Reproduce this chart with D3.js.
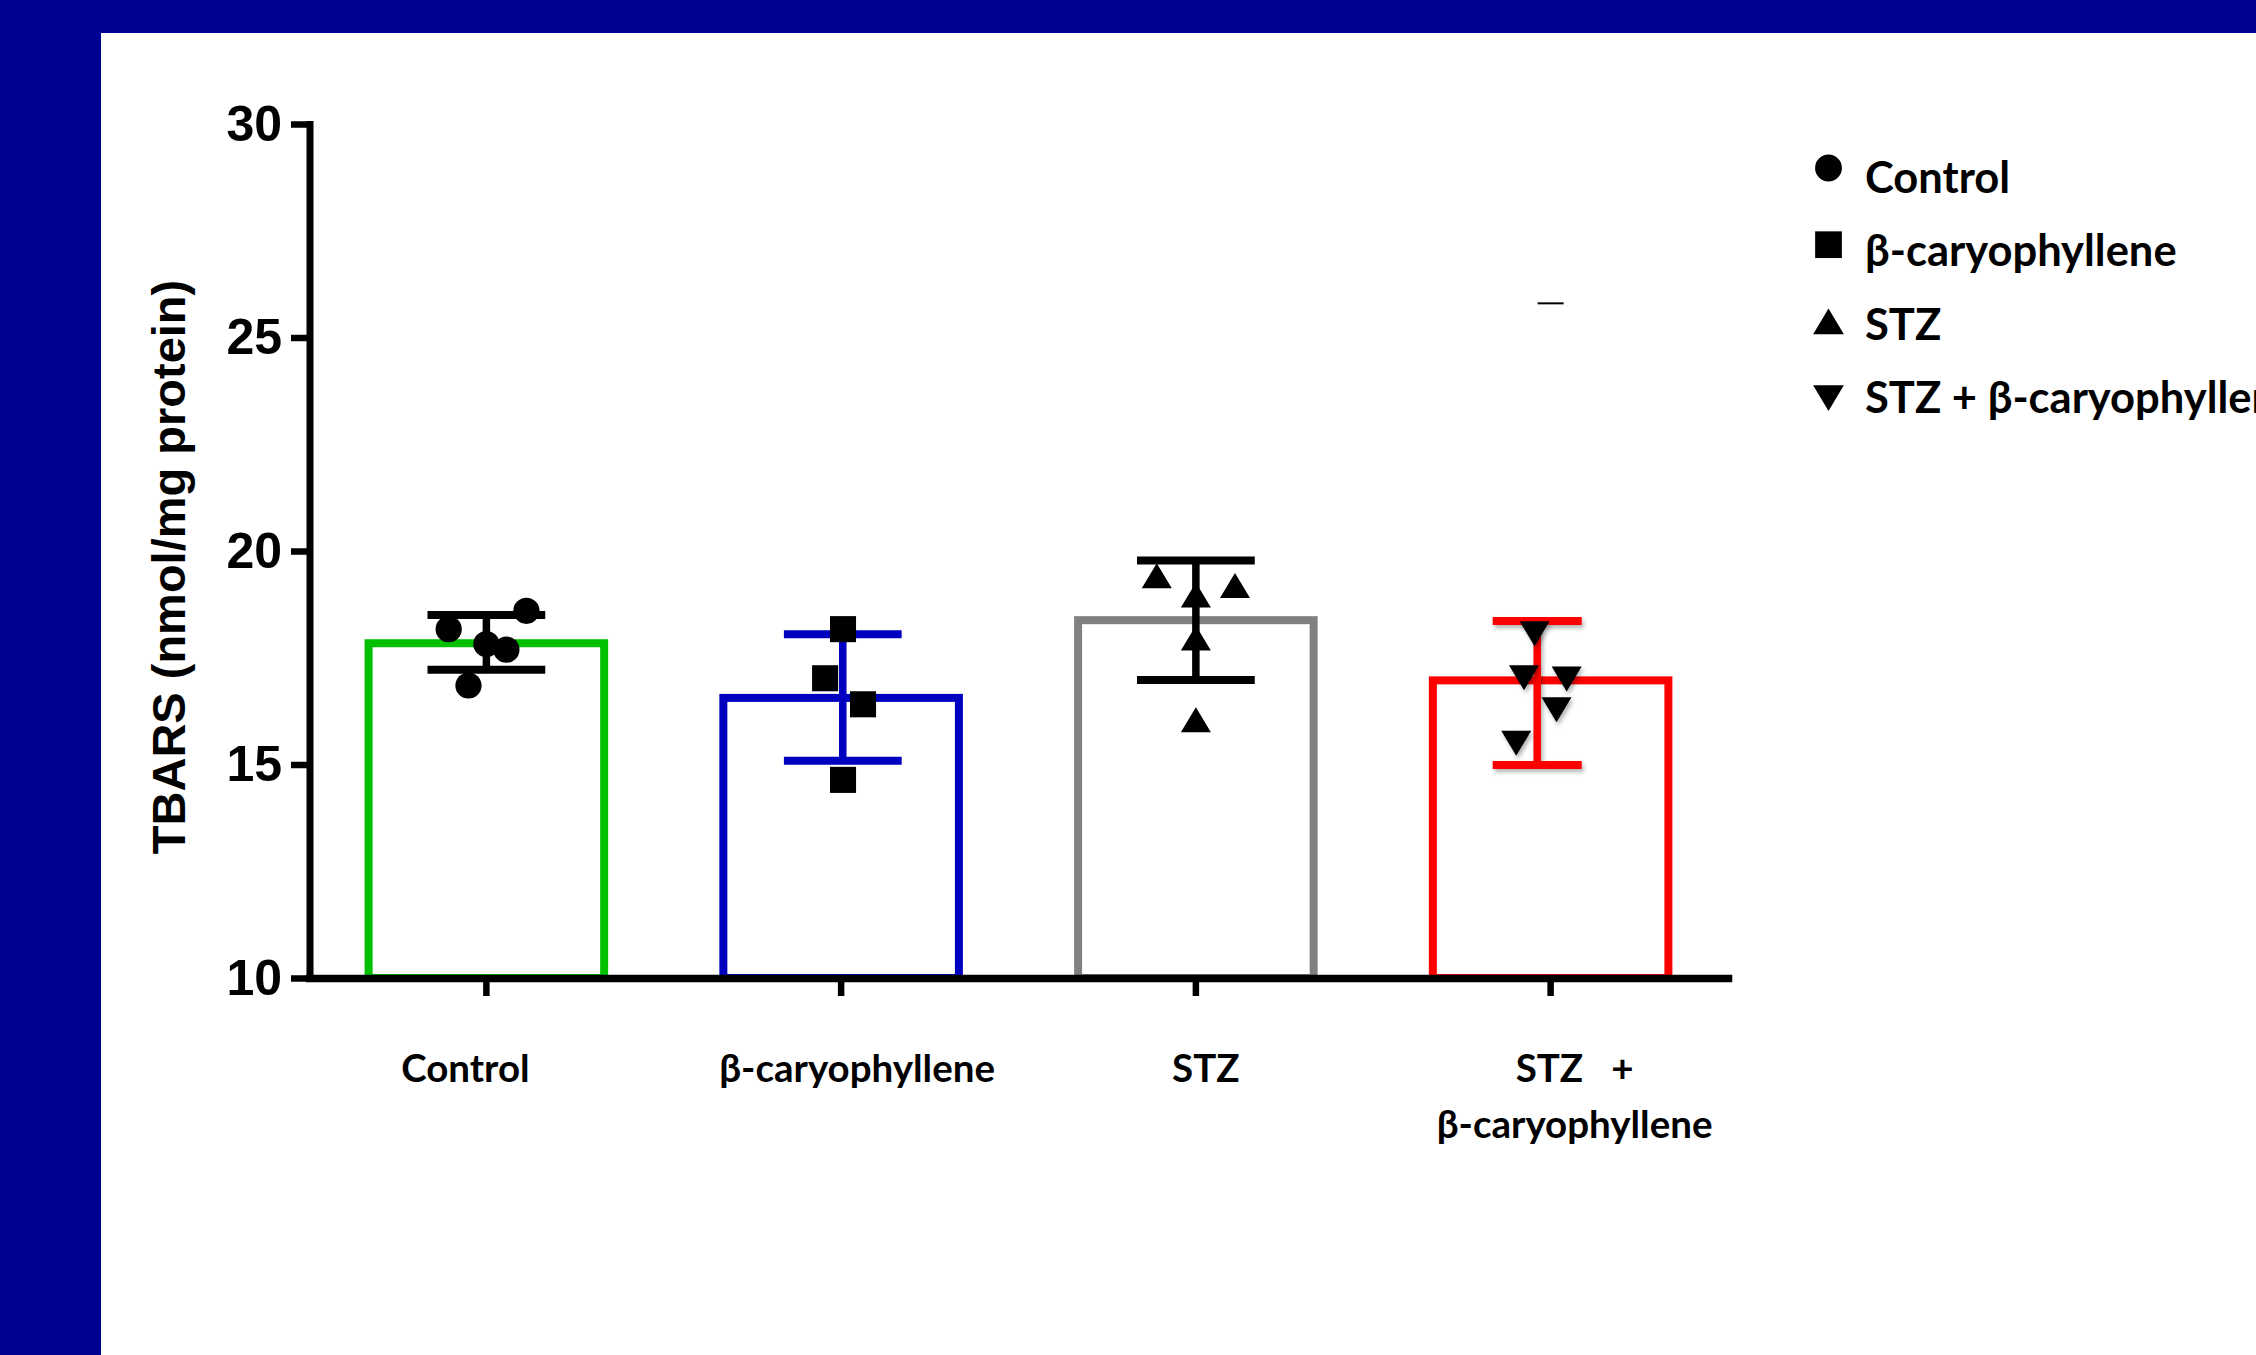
<!DOCTYPE html>
<html>
<head>
<meta charset="utf-8">
<script src="https://cdn.jsdelivr.net/npm/d3@7"></script>
<style>
    body { margin: 0; background: #ffffff; overflow: hidden; }
    text { white-space: pre; }
</style>
</head>
<body>
<svg id="chart"></svg>
<script>
// Groups, means and error bar ends
const groups = ["Control", "β-caryophyllene", "STZ", "STZ + β-caryophyllene"];
const means = [17.84, 16.56, 18.38, 16.97];
const errHigh = [18.50, 18.05, 19.78, 18.36];
const errLow = [17.22, 15.09, 16.98, 14.99];

// Individual animals per group
const controlPts = [18.60, 18.17, 17.82, 17.69, 16.85];
const betaPts = [18.17, 17.02, 16.41, 14.64];
const stzPts = [19.42, 19.19, 18.97, 17.96, 16.05];
const stzBetaPts = [18.06, 17.03, 17.00, 16.28, 15.50];

// Axis ticks and labels
const yTicks = [10, 15, 20, 25, 30];
const xLabelLines = [["Control"], ["β-caryophyllene"], ["STZ"], ["STZ   +", "β-caryophyllene"]];
const legendLabels = ["Control", "β-caryophyllene", "STZ", "STZ + β-caryophyllene"];

const W = 2256, H = 1355;
const barColors = ["#00c000", "#0000c0", "#808080", "#ff0000"];
const errColors = ["#000000", "#0000c0", "#000000", "#ff0000"];

// scatter spread (fraction of bar width) so points don't overlap
const jitter = [
    [0.17, -0.16, 0, 0.085, -0.076],
    [0.008, -0.068, 0.093, 0.008],
    [-0.166, 0.166, 0, 0, 0],
    [-0.068, -0.113, 0.068, 0.025, -0.146]
];
const errShift = [0, 0.007, 0, -0.057];   // error bar horizontal shift (fraction of bar width)
const capFrac = [0.5, 0.5, 0.5, 0.378];   // cap width (fraction of bar width)
const labelShift = [-21, 16, 10, 24];     // x label nudges in px

const svg = d3.select("#chart")
    .attr("width", W)
    .attr("height", H);

// dark blue frame
svg.append("rect").attr("width", W).attr("height", H).attr("fill", "#000091");
svg.append("rect").attr("x", 101).attr("y", 33).attr("width", W - 101).attr("height", H - 33).attr("fill", "#ffffff");

const defs = svg.append("defs");
defs.append("filter").attr("id", "shadow")
    .attr("x", "-20%").attr("y", "-20%").attr("width", "140%").attr("height", "160%")
    .append("feDropShadow")
    .attr("dx", 2).attr("dy", 3).attr("stdDeviation", 2)
    .attr("flood-color", "#000").attr("flood-opacity", 0.3);

// scales
const x = d3.scaleBand()
    .domain(groups)
    .range([309, 1728])
    .paddingInner(0.336)
    .paddingOuter(0.168);

const y = d3.scaleLinear()
    .domain([10, 30])
    .range([978, 124]);

const bw = x.bandwidth();
const cx = (g, i) => x(g) + bw / 2;

// bars (open white boxes)
svg.append("g")
    .selectAll("rect")
    .data(groups)
    .enter().append("rect")
    .attr("x", d => x(d))
    .attr("y", (d, i) => y(means[i]))
    .attr("width", bw)
    .attr("height", (d, i) => y(10) - y(means[i]))
    .attr("fill", "#ffffff")
    .attr("stroke", (d, i) => barColors[i])
    .attr("stroke-width", 8);

// error bars
const errG = svg.append("g");
groups.forEach((g, i) => {
    const ex = cx(g, i) + errShift[i] * bw;
    const half = capFrac[i] * bw / 2;
    const eg = errG.append("g")
        .attr("stroke", errColors[i])
        .attr("stroke-width", 8)
        .attr("filter", i === 3 ? "url(#shadow)" : null);
    eg.append("line")
        .attr("x1", ex).attr("x2", ex)
        .attr("y1", y(errLow[i])).attr("y2", y(errHigh[i]))
        .attr("stroke-width", 7.5);
    eg.append("line")
        .attr("x1", ex - half).attr("x2", ex + half)
        .attr("y1", y(errHigh[i])).attr("y2", y(errHigh[i]));
    eg.append("line")
        .attr("x1", ex - half).attr("x2", ex + half)
        .attr("y1", y(errLow[i])).attr("y2", y(errLow[i]));
});

// triangle symbols centered on their bounding box
const triUp = {
    draw(ctx, size) {
        const h = Math.sqrt(size), w = h * 1.2;
        ctx.moveTo(0, -h / 2);
        ctx.lineTo(w / 2, h / 2);
        ctx.lineTo(-w / 2, h / 2);
        ctx.closePath();
    }
};
const triDown = {
    draw(ctx, size) {
        const h = Math.sqrt(size), w = h * 1.2;
        ctx.moveTo(0, h / 2);
        ctx.lineTo(w / 2, -h / 2);
        ctx.lineTo(-w / 2, -h / 2);
        ctx.closePath();
    }
};
const symbolTypes = [d3.symbolCircle, d3.symbolSquare, triUp, triDown];
const symbolSizes = [540, 680, 625, 625];

// data points
const pointSets = [controlPts, betaPts, stzPts, stzBetaPts];
const ptsG = svg.append("g");
pointSets.forEach((pts, i) => {
    const sym = d3.symbol().type(symbolTypes[i]).size(symbolSizes[i]);
    ptsG.append("g")
        .attr("filter", i === 3 ? "url(#shadow)" : null)
        .selectAll("path")
        .data(pts)
        .enter().append("path")
        .attr("d", sym)
        .attr("transform", (d, j) => `translate(${cx(groups[i], i) + jitter[i][j] * bw},${y(d)})`)
        .attr("fill", "#000");
});

// stray dash seen in the original figure
svg.append("line")
    .attr("x1", cx(groups[3], 3) - 13).attr("x2", cx(groups[3], 3) + 13)
    .attr("y1", y(25.8)).attr("y2", y(25.8))
    .attr("stroke", "#000").attr("stroke-width", 2);

// y axis
const yAxis = svg.append("g")
    .attr("transform", "translate(309.5,0)")
    .call(d3.axisLeft(y).tickValues(yTicks).tickSize(18.5).tickSizeOuter(0).tickPadding(9));
yAxis.select(".domain").attr("stroke-width", 7).attr("stroke-linecap", "square");
yAxis.selectAll(".tick line").attr("stroke-width", 6.5);
yAxis.selectAll(".tick text")
    .attr("font-family", "'Liberation Sans Narrow', 'Liberation Sans', Arial, sans-serif")
    .attr("font-weight", "bold")
    .attr("font-size", 50)
    .attr("fill", "#000");

// x axis
const xAxis = svg.append("g")
    .attr("transform", "translate(0,978)")
    .call(d3.axisBottom(x).tickSize(18).tickSizeOuter(0).tickFormat(""));
xAxis.select(".domain").attr("stroke-width", 7.5).attr("stroke-linecap", "square");
xAxis.selectAll(".tick line").attr("stroke-width", 6.5);

// x labels
const xl = svg.append("g")
    .attr("font-family", "Lato, 'Open Sans', sans-serif")
    .attr("font-weight", "bold")
    .attr("font-size", 38.5)
    .attr("text-anchor", "middle");
xLabelLines.forEach((lines, i) => {
    lines.forEach((t, k) => {
        xl.append("text")
            .attr("x", cx(groups[i], i) + labelShift[i])
            .attr("y", 1082 + k * 56)
            .text(t);
    });
});

// y title
svg.append("text")
    .attr("transform", "rotate(-90)")
    .attr("x", -567)
    .attr("y", 185)
    .attr("text-anchor", "middle")
    .attr("font-family", "'Liberation Sans', Arial, sans-serif")
    .attr("font-weight", "bold")
    .attr("font-size", 47)
    .text("TBARS (nmol/mg protein)");

// legend
const legend = svg.append("g");
legendLabels.forEach((lab, i) => {
    legend.append("path")
        .attr("d", d3.symbol().type(symbolTypes[i]).size(symbolSizes[i] * 1.05))
        .attr("transform", `translate(1828.5,${168 + i * 76.7})`)
        .attr("fill", "#000");
    legend.append("text")
        .attr("x", 1865)
        .attr("y", 193 + i * 73.3)
        .attr("font-family", "Lato, 'Open Sans', sans-serif")
        .attr("font-weight", "bold")
        .attr("font-size", 43.5)
        .text(lab);
});
</script>
</body>
</html>
